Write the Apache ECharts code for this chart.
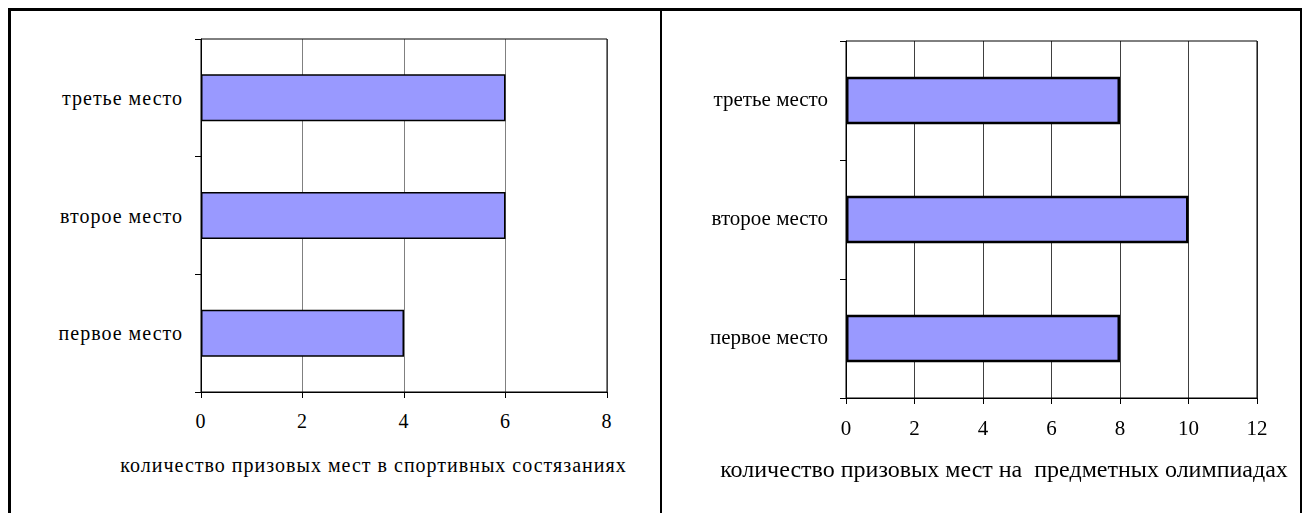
<!DOCTYPE html>
<html>
<head>
<meta charset="utf-8">
<script src="https://cdn.jsdelivr.net/npm/echarts@6/dist/echarts.min.js"></script>
<style>
html,body{margin:0;padding:0;background:#fff;width:1307px;height:513px;overflow:hidden;}
#left{position:absolute;left:0;top:0;width:660px;height:513px;letter-spacing:1px;}
#right{position:absolute;left:660px;top:0;width:647px;height:513px;}
.ln{position:absolute;background:#000;}
</style>
</head>
<body>
<div id="left"></div>
<div id="right"></div>
<div class="ln" style="left:8px;top:8px;width:1294px;height:3px;"></div>
<div class="ln" style="left:8px;top:8px;width:3px;height:505px;"></div>
<div class="ln" style="left:660px;top:8px;width:2px;height:505px;"></div>
<div class="ln" style="left:1300px;top:8px;width:2px;height:505px;"></div>
<script>
const categories = ['первое место', 'второе место', 'третье место'];
const sportValues = [4, 6, 6];
const olympiadValues = [8, 10, 8];
const sportTicks = { min: 0, max: 8, interval: 2 };
const olympiadTicks = { min: 0, max: 12, interval: 2 };
const sportTitle = 'количество призовых мест в спортивных состязаниях';
const olympiadTitle = 'количество призовых мест на  предметных олимпиадах';

const FONT = 'Liberation Serif, Times New Roman, serif';

function makeOption(cfg) {
  return {
    animation: false,
    textStyle: { fontFamily: FONT },
    grid: {
      left: cfg.gl, right: cfg.gr, top: cfg.gt, bottom: cfg.gb,
      show: true, borderColor: '#000', borderWidth: 1,
      backgroundColor: 'transparent', z: 5
    },
    xAxis: {
      type: 'value',
      min: cfg.ticks.min, max: cfg.ticks.max, interval: cfg.ticks.interval,
      axisLine: { show: true, lineStyle: { color: '#000', width: 1 } },
      axisTick: { show: true, length: 6, lineStyle: { color: '#000' } },
      axisLabel: { margin: cfg.xm, color: '#000', fontFamily: FONT, fontSize: cfg.fs },
      splitLine: { show: true, lineStyle: { color: cfg.gridColor, width: 1 } }
    },
    yAxis: {
      type: 'category',
      data: categories,
      axisLine: { show: true, lineStyle: { color: '#000', width: 1 } },
      axisTick: { show: true, length: 6, lineStyle: { color: '#000' } },
      axisLabel: { margin: 18, color: '#000', fontFamily: FONT, fontSize: cfg.fs },
      splitLine: { show: false }
    },
    series: [{
      type: 'bar',
      data: cfg.values,
      barCategoryGap: '60%',
      itemStyle: { color: '#9999FF', borderColor: '#000', borderWidth: cfg.bw }
    }],
    graphic: [{
      type: 'text',
      x: cfg.tx, y: cfg.ty,
      style: { text: cfg.title, fill: '#000', fontFamily: FONT, fontSize: cfg.tfs, align: 'center', verticalAlign: 'middle' }
    }]
  };
}

const leftChart = echarts.init(document.getElementById('left'), null, { renderer: 'svg' });
leftChart.setOption(makeOption({
  gl: 201, gr: 53, gt: 39, gb: 121, ticks: sportTicks, values: sportValues, xm: 19,
  fs: 20, tfs: 20, bw: 1.5, gridColor: '#808080', title: sportTitle, tx: 373.5, ty: 465
}));
const rightChart = echarts.init(document.getElementById('right'), null, { renderer: 'canvas' });
rightChart.setOption(makeOption({
  gl: 186, gr: 50, gt: 41, gb: 115, ticks: olympiadTicks, values: olympiadValues, xm: 21,
  fs: 21, tfs: 24, bw: 2.5, gridColor: '#404040', title: olympiadTitle, tx: 344, ty: 471
}));
</script>
</body>
</html>
